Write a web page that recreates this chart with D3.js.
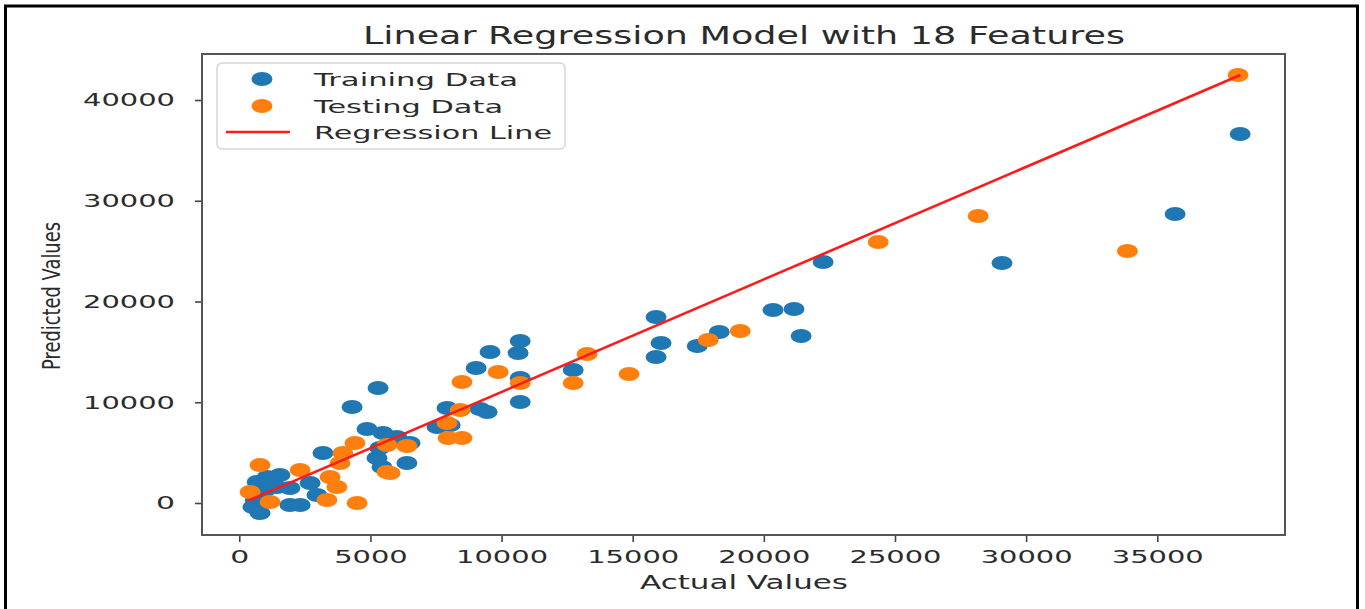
<!DOCTYPE html>
<html>
<head>
<meta charset="utf-8">
<script src="https://cdn.jsdelivr.net/npm/d3@7"></script>
<style>
  body { margin: 0; padding: 0; background: #fff; }
  text { font-family: "DejaVu Sans", sans-serif; fill: #2b2b2b; }
</style>
</head>
<body>
<script>
document.addEventListener('DOMContentLoaded', function () {

// chart values
var trainX = [38160, 35680, 29080, 22260, 21150, 20350, 21420, 18300, 17460, 15890,
              16080, 15890, 12730, 10710, 10630, 9560, 9030, 10710, 10710, 9450,
              9180, 7920, 8040, 7540, 6510, 6390, 6010, 5480, 4870, 5290,
              4300, 5250, 5440, 5360, 3190, 2700, 2960, 1060, 1550, 680,
              1440, 1930, 520, 790, 1930, 2320, 610, 1000];
var trainY = [36630, 28690, 23820, 23920, 19260, 19160, 16580, 16970, 15580, 18460,
              15880, 14490, 13200, 16080, 14890, 14990, 13400, 12410, 10030, 9030,
              9330, 9430, 7740, 7540, 5960, 3970, 6550, 6950, 7350, 11420,
              9530, 4470, 3570, 5460, 4960, 1990, 790, 2580, 2780, 2080,
              1590, 1490, -400, -990, -200, -200, 300, 1290];

var testX  = [38080, 33860, 28170, 24360, 19100, 17880, 14860, 13260, 12730, 9870,
              8490, 10710, 8420, 7920, 7960, 8490, 6390, 5630, 4410, 3950,
              3840, 3460, 3720, 3340, 4490, 2320, 790, 410, 1170, 5750, 5630];
var testY  = [42480, 25010, 28490, 25910, 17070, 16180, 12800, 14790, 11910, 13000,
              12010, 11910, 9230, 7940, 6450, 6450, 5660, 3080, 5960, 4960,
              3970, 2580, 1590, 300, 0, 3280, 3770, 1090, 100, 2980, 5760];

var lineX  = [330, 38170];       // regression line end points
var lineY  = [230, 42480];

var xTicks = [0, 5000, 10000, 15000, 20000, 25000, 30000, 35000];
var yTicks = [0, 10000, 20000, 30000, 40000];

var seriesNames = ["Training Data", "Testing Data", "Regression Line"];
var seriesColors = ["#1f77b4", "#ff7f0e", "#ff1a1a"];

var W = 1365, H = 609;
var box = {left: 202, right: 1285, top: 54, bottom: 535};   // plot frame in px
var digitW = 18.4;                                          // stretched glyph width

var svg = d3.select("body").append("svg")
  .attr("width", W).attr("height", H);

// outer black frame of the screenshot
svg.append("rect")
  .attr("x", 5.5).attr("y", 6).attr("width", 1352).attr("height", 640)
  .attr("fill", "none").attr("stroke", "#000").attr("stroke-width", 3);

var x = d3.scaleLinear().domain([-1422, 39870]).range([box.left, box.right]);
var y = d3.scaleLinear().domain([-3176, 44566]).range([box.bottom, box.top]);

// axes
var gx = svg.append("g").attr("transform", "translate(0," + box.bottom + ")")
  .call(d3.axisBottom(x).tickValues(xTicks).tickFormat(d3.format("d")).tickSize(7).tickSizeOuter(0).tickPadding(8));
var gy = svg.append("g").attr("transform", "translate(" + box.left + ",0)")
  .call(d3.axisLeft(y).tickValues(yTicks).tickFormat(d3.format("d")).tickSize(7).tickSizeOuter(0).tickPadding(20));

[gx, gy].forEach(function (g) {
  g.select(".domain").remove();
  g.selectAll(".tick line").attr("stroke", "#444").attr("stroke-width", 1.6);
  g.selectAll(".tick text")
    .attr("font-size", 18).attr("fill", "#333")
    .attr("textLength", function (d) { var n = String(d).length; return n == 1 ? 19 : n * digitW; })
    .attr("lengthAdjust", "spacingAndGlyphs");
});

// frame (spines)
svg.append("rect")
  .attr("x", box.left).attr("y", box.top)
  .attr("width", box.right - box.left).attr("height", box.bottom - box.top)
  .attr("fill", "none").attr("stroke", "#555").attr("stroke-width", 2);

// points, drawn as ellipses because the picture is stretched sideways
function dots(xs, ys, color) {
  svg.append("g").selectAll("ellipse")
    .data(xs.map(function (v, i) { return [v, ys[i]]; }))
    .join("ellipse")
    .attr("cx", function (d) { return x(d[0]); })
    .attr("cy", function (d) { return y(d[1]); })
    .attr("rx", 10.5).attr("ry", 7)
    .attr("fill", color);
}
dots(trainX, trainY, seriesColors[0]);
dots(testX, testY, seriesColors[1]);

svg.append("path")
  .datum(lineX.map(function (v, i) { return [v, lineY[i]]; }))
  .attr("d", d3.line().x(function (d) { return x(d[0]); }).y(function (d) { return y(d[1]); }))
  .attr("stroke", seriesColors[2]).attr("stroke-width", 2.6).attr("fill", "none");

// title and axis labels
svg.append("text")
  .attr("x", 744).attr("y", 44).attr("text-anchor", "middle")
  .attr("font-size", 24).attr("textLength", 762).attr("lengthAdjust", "spacingAndGlyphs")
  .text("Linear Regression Model with 18 Features");

svg.append("text")
  .attr("x", 744).attr("y", 589).attr("text-anchor", "middle")
  .attr("font-size", 19).attr("textLength", 208).attr("lengthAdjust", "spacingAndGlyphs")
  .text("Actual Values");

svg.append("text")
  .attr("transform", "translate(60,296) rotate(-90) scale(1,1.45)")
  .attr("text-anchor", "middle")
  .attr("font-size", 17).attr("textLength", 148).attr("lengthAdjust", "spacingAndGlyphs")
  .text("Predicted Values");

// legend
var lg = svg.append("g");
lg.append("rect")
  .attr("x", 217).attr("y", 63).attr("width", 348).attr("height", 86).attr("rx", 5)
  .attr("fill", "#fff").attr("fill-opacity", 0.8).attr("stroke", "#d6d6d6").attr("stroke-width", 1.5);
var legendW = [204, 189, 238];
var legendY = [79, 106, 132];
seriesNames.forEach(function (name, i) {
  if (i < 2) {
    lg.append("ellipse").attr("cx", 262).attr("cy", legendY[i]).attr("rx", 10.5).attr("ry", 7)
      .attr("fill", seriesColors[i]);
  } else {
    lg.append("line").attr("x1", 226).attr("x2", 290).attr("y1", legendY[i]).attr("y2", legendY[i])
      .attr("stroke", seriesColors[i]).attr("stroke-width", 2.6);
  }
  lg.append("text").attr("x", 314).attr("y", legendY[i] + 6.5)
    .attr("font-size", 18).attr("textLength", legendW[i]).attr("lengthAdjust", "spacingAndGlyphs")
    .text(name);
});

});  // End DOMContentLoaded
</script>
</body>
</html>
